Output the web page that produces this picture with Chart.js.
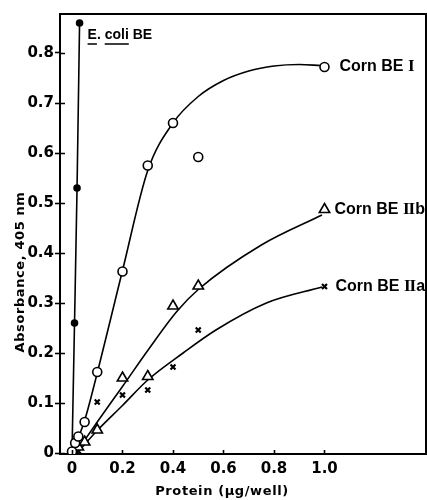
<!DOCTYPE html>
<html>
<head>
<meta charset="utf-8">
<script src="https://cdn.jsdelivr.net/npm/chart.js@4.4.1/dist/chart.umd.min.js"></script>
<style>
  html, body { margin: 0; padding: 0; background: #fff; overflow: hidden; }
  #wrap { position: relative; width: 427px; height: 500px; }
  #chart { display: block; }
</style>
</head>
<body>
<div id="wrap"><canvas id="chart"></canvas></div>
<script>
// measured points
const ecoliX = [0.01, 0.02, 0.03];
const ecoliY = [0.26, 0.53, 0.86];
const beIX = [0, 0.0125, 0.025, 0.05, 0.1, 0.2, 0.3, 0.4, 0.5, 1.0];
const beIY = [0.003, 0.02, 0.033, 0.062, 0.162, 0.363, 0.575, 0.66, 0.592, 0.772];
const beIIbX = [0.025, 0.05, 0.1, 0.2, 0.3, 0.4, 0.5, 1.0];
const beIIbY = [0.012, 0.022, 0.046, 0.15, 0.153, 0.294, 0.334, 0.487];
const beIIaX = [0.0125, 0.025, 0.1, 0.2, 0.3, 0.4, 0.5, 1.0];
const beIIaY = [0.002, 0.004, 0.102, 0.116, 0.126, 0.172, 0.246, 0.333];

// hand-drawn curves through the points
const ecoliLineX = [0, 0.01, 0.02, 0.03];
const ecoliLineY = [0, 0.26, 0.53, 0.86];
const curveIX = [0, 0.05, 0.1, 0.15, 0.2, 0.3, 0.4, 0.5, 0.6, 0.7, 0.8, 0.9, 0.985];
const curveIY = [0, 0.065, 0.16, 0.262, 0.365, 0.565, 0.66, 0.713, 0.745, 0.764, 0.774, 0.777, 0.775];
const curveIIbX = [0.015, 0.1, 0.2, 0.3, 0.415, 0.5, 0.75, 0.99];
const curveIIbY = [0, 0.062, 0.133, 0.205, 0.283, 0.327, 0.416, 0.476];
const curveIIaX = [0.02, 0.1, 0.2, 0.3, 0.44, 0.57, 0.77, 0.99];
const curveIIaY = [0, 0.045, 0.095, 0.146, 0.2, 0.246, 0.3, 0.332];

const xTicks = [0, 0.2, 0.4, 0.6, 0.8, 1.0];
const yTicks = [0, 0.1, 0.2, 0.3, 0.4, 0.5, 0.6, 0.7, 0.8];

// label = name + roman numeral + suffix
const seriesNames = ['E. coli BE', 'Corn BE I', 'Corn BE IIb', 'Corn BE IIa'];
const cornParts = [['Corn BE ', 'I', ''], ['Corn BE ', 'II', 'b'], ['Corn BE ', 'II', 'a']];

const pts = (xs, ys) => xs.map((x, i) => ({ x: x, y: ys[i] }));

const tickFont = { family: 'DejaVu Sans', size: 15, weight: 'bold' };

const marks = (label, xs, ys, style, radius, fill, bw) => ({
  label: label,
  data: pts(xs, ys),
  showLine: false,
  pointStyle: style,
  pointRadius: radius,
  pointBorderWidth: bw,
  pointBorderColor: '#000',
  pointBackgroundColor: fill,
});

const curve = (xs, ys, tension) => ({
  data: pts(xs, ys),
  showLine: true,
  borderColor: '#000',
  borderWidth: 1.6,
  pointRadius: 0,
  tension: tension,
  cubicInterpolationMode: 'monotone',
});

// frame, inside ticks, axis titles and series labels
const decor = {
  id: 'decor',
  afterDraw(chart) {
    const { ctx, chartArea: a, scales } = chart;
    const xs = scales.x, ys = scales.y;
    ctx.save();
    ctx.strokeStyle = '#000';
    ctx.lineWidth = 2;
    ctx.beginPath();
    ctx.moveTo(a.left, a.top);
    ctx.lineTo(a.right, a.top);
    ctx.lineTo(a.right, a.bottom);
    ctx.stroke();

    ctx.lineWidth = 1.6;
    ctx.beginPath();
    yTicks.forEach(v => {
      const py = Math.round(ys.getPixelForValue(v)) + 0.5;
      ctx.moveTo(a.left, py);
      ctx.lineTo(a.left + 5, py);
    });
    xTicks.forEach(v => {
      const px = Math.round(xs.getPixelForValue(v)) + 0.5;
      ctx.moveTo(px, a.bottom);
      ctx.lineTo(px, a.bottom - 4);
    });
    ctx.stroke();

    ctx.fillStyle = '#000';
    ctx.font = 'bold 13px "DejaVu Sans"';
    ctx.letterSpacing = '0.6px';
    ctx.textAlign = 'center';
    ctx.textBaseline = 'middle';
    ctx.save();
    ctx.translate(21, 272);
    ctx.rotate(-Math.PI / 2);
    ctx.fillText('Absorbance, 405 nm', 0, 0);
    ctx.restore();
    ctx.fillText('Protein (μg/well)', 222, 492);

    // E. coli label with underlined genus/species
    ctx.font = 'bold 14px "Liberation Sans"';
    ctx.letterSpacing = '0px';
    ctx.textAlign = 'left';
    const top = chart.getDatasetMeta(0).data[ecoliX.length - 1];
    const ex = top.x + 8, ey = top.y + 12;
    ctx.fillText(seriesNames[0], ex, ey);
    const wE = ctx.measureText('E').width;
    const wPre = ctx.measureText('E. ').width;
    const wColi = ctx.measureText('coli').width;
    ctx.lineWidth = 1.4;
    ctx.beginPath();
    ctx.moveTo(ex, ey + 9); ctx.lineTo(ex + wE, ey + 9);
    ctx.moveTo(ex + wPre, ey + 9); ctx.lineTo(ex + wPre + wColi, ey + 9);
    ctx.stroke();

    // corn labels beside their last points, numerals in a serif face
    const sans = 'bold 16px "Liberation Sans"';
    const serif = 'bold 17px "Liberation Serif"';
    [[1, 15], [2, 10], [3, 11]].forEach(([i, dx]) => {
      const d = chart.getDatasetMeta(i).data;
      const p = d[d.length - 1];
      const [pre, num, suf] = cornParts[i - 1];
      let x = p.x + dx;
      ctx.font = sans;
      ctx.fillText(pre, x, p.y);
      x += ctx.measureText(pre).width;
      ctx.font = serif;
      ctx.letterSpacing = '-1px';
      ctx.fillText(num, x, p.y);
      x += ctx.measureText(num).width + 1;
      ctx.letterSpacing = '0px';
      ctx.font = sans;
      ctx.fillText(suf, x, p.y);
    });
    ctx.restore();
  }
};

new Chart(document.getElementById('chart'), {
  type: 'scatter',
  data: {
    datasets: [
      marks(seriesNames[0], ecoliX, ecoliY, 'circle', 3, '#000', 1.6),
      marks(seriesNames[1], beIX, beIY, 'circle', 4.5, '#fff', 1.6),
      marks(seriesNames[2], beIIbX, beIIbY, 'triangle', 6, '#fff', 1.6),
      marks(seriesNames[3], beIIaX, beIIaY, 'crossRot', 3.5, '#fff', 2.2),
      curve(ecoliLineX, ecoliLineY, 0),
      curve(curveIX, curveIY, 0.4),
      curve(curveIIbX, curveIIbY, 0.4),
      curve(curveIIaX, curveIIaY, 0.4),
    ]
  },
  options: {
    responsive: true,
    maintainAspectRatio: false,
    animation: false,
    layout: { autoPadding: false, padding: { top: 14, right: 1, left: 0, bottom: 0 } },
    plugins: { legend: { display: false }, tooltip: { enabled: false } },
    scales: {
      x: {
        type: 'linear',
        min: -0.0475,
        max: 1.402,
        afterBuildTicks: s => { s.ticks = xTicks.map(v => ({ value: v })); },
        afterFit: s => { s.height = 46; s.paddingLeft = 0; s.paddingRight = 0; },
        grid: { drawOnChartArea: false, drawTicks: false },
        border: { display: true, color: '#000', width: 2 },
        ticks: {
          color: '#000',
          font: tickFont,
          padding: 6,
          maxRotation: 0,
          callback: v => v === 0 ? '0' : v.toFixed(1),
        },
      },
      y: {
        type: 'linear',
        min: -0.002,
        max: 0.878,
        afterBuildTicks: s => { s.ticks = yTicks.map(v => ({ value: v })); },
        afterFit: s => { s.width = 60; s.paddingTop = 0; s.paddingBottom = 0; },
        grid: { drawOnChartArea: false, drawTicks: true, tickLength: 5, tickWidth: 1.6, tickColor: '#000' },
        border: { display: true, color: '#000', width: 2 },
        ticks: {
          color: '#000',
          font: tickFont,
          padding: 1,
          callback: v => v === 0 ? '0' : v.toFixed(1),
        },
      },
    },
  },
  plugins: [decor],
});
</script>
</body>
</html>
